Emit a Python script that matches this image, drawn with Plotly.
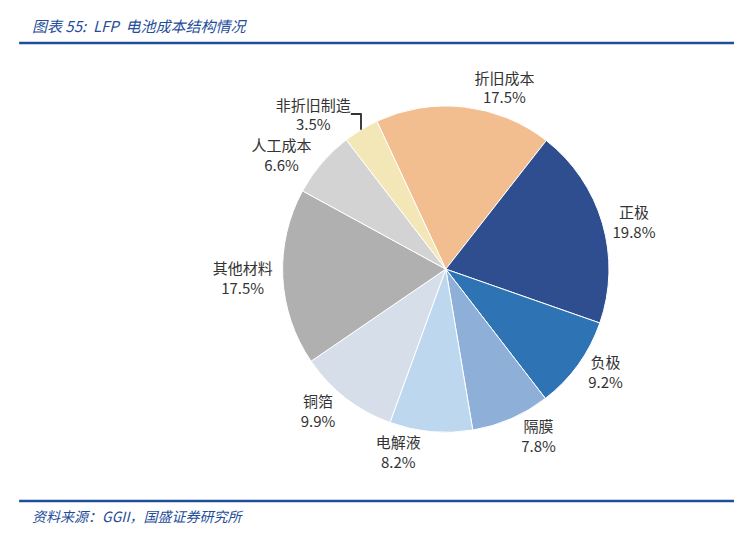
import plotly.graph_objects as go

labels = ["折旧成本", "正极", "负极", "隔膜", "电解液", "铜箔", "其他材料", "人工成本", "非折旧制造"]
values = [17.5, 19.8, 9.2, 7.8, 8.2, 9.9, 17.5, 6.6, 3.5]
colors = ["#F2BE8F", "#2E4E8F", "#2E74B5", "#8EB0D8", "#BDD7EE", "#D6DEEA", "#B0B0B0", "#D3D3D3", "#F3E7B8"]
texts = [f"{l}<br>{v:.1f}%" for l, v in zip(labels, values)]

fig = go.Figure(go.Pie(
    labels=labels, values=values, text=texts, textinfo="text",
    textposition="outside", sort=False, direction="clockwise", rotation=-25,
    marker=dict(colors=colors, line=dict(color="white", width=1)),
    textfont=dict(size=15, color="#333333", family="Noto Sans CJK SC"),
    showlegend=False, domain=dict(x=[0.33, 0.85], y=[0.22, 0.82]),
))
fig.update_layout(
    width=742, height=544, margin=dict(l=0, r=0, t=0, b=0),
    paper_bgcolor="white", plot_bgcolor="white",
    font=dict(family="Noto Sans CJK SC"),
    shapes=[
        dict(type="line", xref="paper", yref="paper", x0=0.015, x1=0.995, y0=1-35/544, y1=1-35/544,
             line=dict(color="#1F4E9A", width=2.5)),
        dict(type="line", xref="paper", yref="paper", x0=0.015, x1=0.995, y0=1-493/544, y1=1-493/544,
             line=dict(color="#1F4E9A", width=2.5)),
    ],
    annotations=[
        dict(text="<i>图表 55:  LFP  电池成本结构情况</i>", xref="paper", yref="paper", x=0.03, y=1-17/544,
             xanchor="left", yanchor="middle", showarrow=False, font=dict(size=15, color="#1F4E9A")),
        dict(text="<i>资料来源：GGII，国盛证券研究所</i>", xref="paper", yref="paper", x=0.03, y=1-508/544,
             xanchor="left", yanchor="middle", showarrow=False, font=dict(size=14, color="#1F4E9A")),
    ],
)
fig.write_html("out.html")
